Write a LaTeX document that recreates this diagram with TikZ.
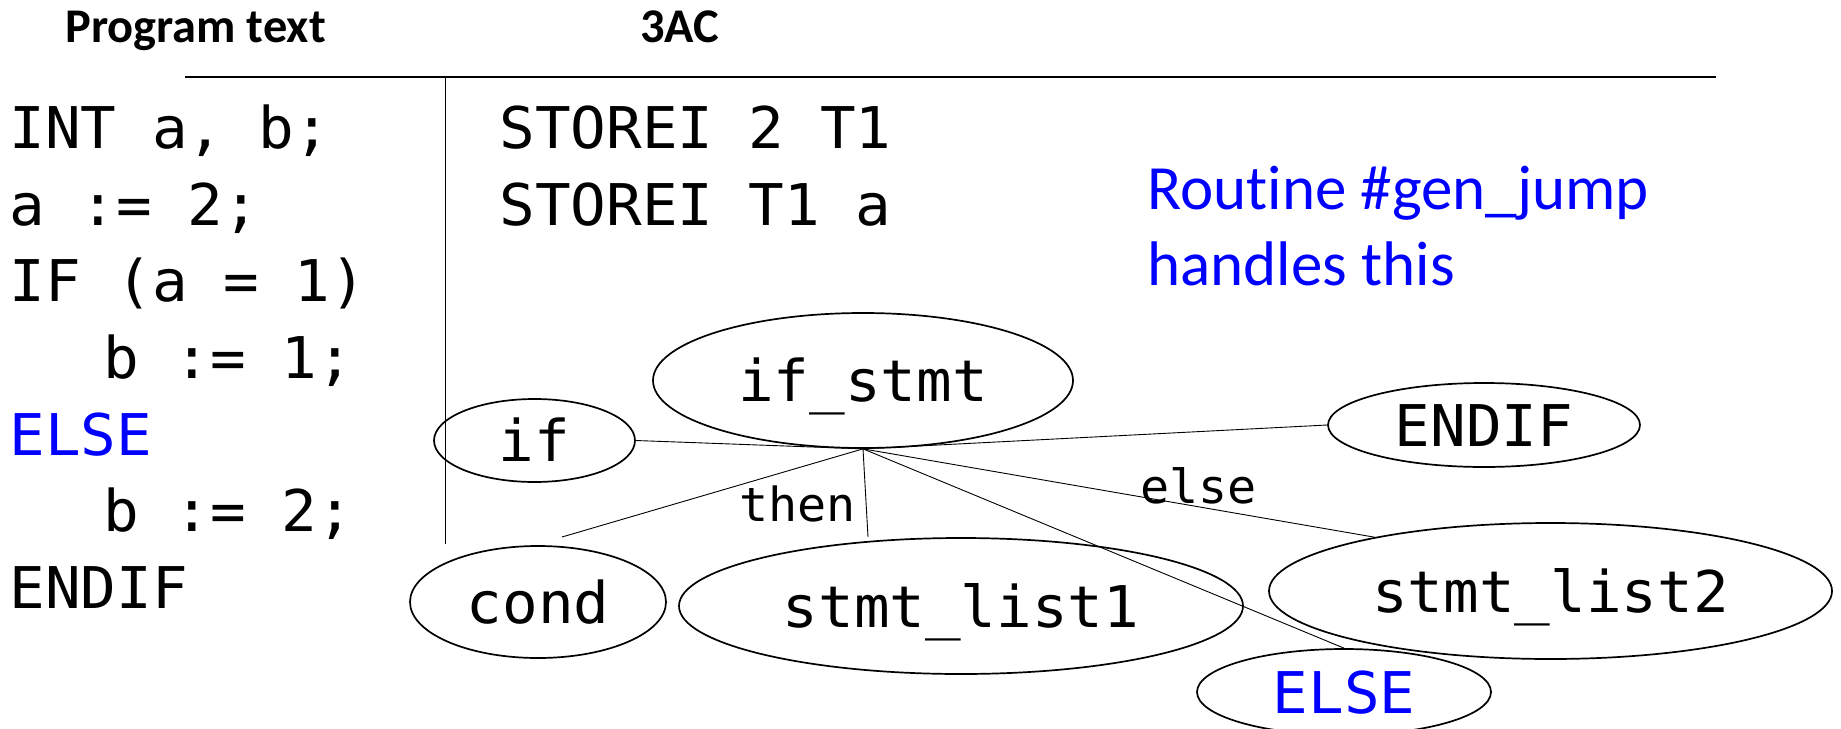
\documentclass[tikz,border=0pt]{standalone}
\usepackage{fontspec}
\usetikzlibrary{shapes.geometric}
\newfontfamily\monofnt[FakeStretch=1.03]{DejaVu Sans Mono}
\newfontfamily\calfnt[Ligatures=NoCommon]{Carlito}
\tikzset{
  codeline/.style={font=\monofnt\fontsize{28.75}{34}\selectfont, anchor=base west, inner sep=0pt},
  ell/.style={draw, ellipse, line width=0.85pt, inner sep=0pt,
    font=\monofnt\fontsize{28.75}{34}\selectfont, text height=21pt, text depth=0pt},
  conn/.style={line width=0.45pt},
  lbl/.style={font=\monofnt\fontsize{23.5}{28}\selectfont, anchor=base west, inner sep=0pt},
  hdr/.style={font=\calfnt\bfseries\fontsize{24.2}{28}\selectfont, anchor=base west, inner sep=0pt},
  note/.style={font=\calfnt\fontsize{31.5}{38}\selectfont, text=blue, anchor=base west, inner sep=0pt}
}
\begin{document}
\begin{tikzpicture}[x=0.5pt,y=-0.5pt]
\useasboundingbox (0,0) rectangle (1841,728);
% headers
\node[hdr] (h1) at (65,42) {Program text};
\node[hdr] (h2) at (640,42) {3AC};
% rules
\coordinate (hl) at (185,77);
\coordinate (hr) at (1716,77);
\coordinate (vt) at (445,77);
\coordinate (vb) at (445,544);
\draw[line width=0.65pt] (hl) -- (hr);
\draw[line width=0.5pt] (vt) -- (vb);
% program text
\node[codeline] (p1) at (9,148) {INT a, b;};
\node[codeline] (p2) at (9,225) {a := 2;};
\node[codeline] (p3) at (9,301) {IF (a = 1)};
\node[codeline] (p4) at (103,378) {b := 1;};
\node[codeline, text=blue] (p5) at (9,455) {ELSE};
\node[codeline] (p6) at (103,531) {b := 2;};
\node[codeline] (p7) at (9,608) {ENDIF};
% 3AC
\node[codeline] (t1) at (499,148) {STOREI 2 T1};
\node[codeline] (t2) at (499,225) {STOREI T1 a};
% note
\node[note] (n1) at (1147,209) {Rout\kern0pt ine \#gen\_jump};
\node[note] (n2) at (1147,285) {handles this};
% tree
\node[ell, minimum width=210pt, minimum height=67.5pt] (ifstmt) at (863,380.5) {if\_stmt};
\node[ell, minimum width=100.5pt, minimum height=41.5pt] (if) at (534.5,440.5) {if};
\node[ell, minimum width=156pt, minimum height=42pt] (endif) at (1484,425) {ENDIF};
\node[ell, minimum width=128pt, minimum height=56pt] (cond) at (538,602) {cond};
\node[ell, minimum width=282pt, minimum height=68pt] (sl1) at (961,606) {stmt\_list1};
\node[ell, minimum width=281.5pt, minimum height=68pt] (sl2) at (1550.5,591) {stmt\_list2};
\node[ell, minimum width=147pt, minimum height=43pt, text=blue] (else) at (1344,692) {ELSE};
\coordinate (cend) at (562,537);
\coordinate (s1end) at (868,537);
\draw[conn] (ifstmt.south) -- (if.east);
\draw[conn] (ifstmt.south) -- (endif.west);
\draw[conn] (ifstmt.south) -- (cend);
\draw[conn] (ifstmt.south) -- (s1end);
\draw[conn] (ifstmt.south) -- (sl2.163.7);
\draw[conn] (ifstmt.south) -- (else.north);
\node[lbl] (then) at (739,521) {then};
\node[lbl] (elselbl) at (1140,503) {else};
\end{tikzpicture}
\end{document}
